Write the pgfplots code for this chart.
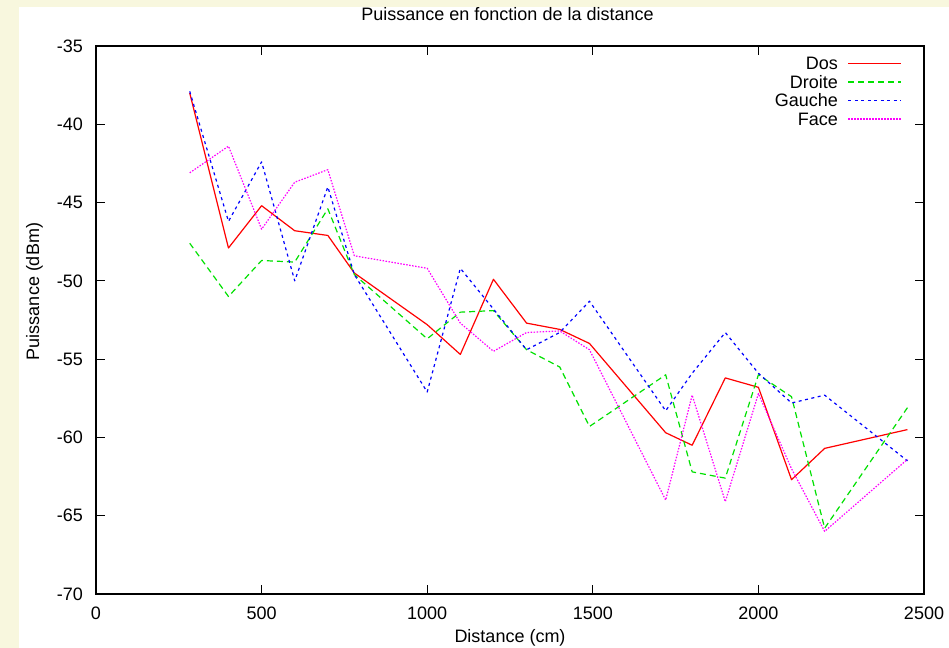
\documentclass[border=0pt]{standalone}
\usepackage{fontspec}
\setmainfont{Liberation Sans}
\usepackage{pgfplots}
\pgfplotsset{compat=1.18}

\definecolor{pagebg}{RGB}{248,247,222}
\definecolor{gpred}{RGB}{255,0,0}
\definecolor{gpgreen}{RGB}{0,225,0}
\definecolor{gpblue}{RGB}{0,0,255}
\definecolor{gpmagenta}{RGB}{255,0,255}

\newcommand{\gpfont}{\fontsize{18bp}{21bp}\selectfont}

\tikzset{
  dosline/.style={draw=gpred, solid, line width=1.2bp},
  droiteline/.style={draw=gpgreen, dash pattern=on 6bp off 4bp, line width=1.2bp},
  gaucheline/.style={draw=gpblue, dash pattern=on 3bp off 3.5bp, line width=1.2bp},
  faceline/.style={draw=gpmagenta, dash pattern=on 1.5bp off 1.5bp, line width=1.2bp},
}

\begin{document}
\begin{tikzpicture}[x=1bp,y=1bp]
  % page background, white sheet
  \fill[pagebg] (0,0) rectangle (949,648);
  \fill[white] (19,0) rectangle (949,641);
  \useasboundingbox (0,0) rectangle (949,648);

  % key sample lines (drawn before any text is set)
  \draw[dosline]    (848,584.5) -- (901,584.5);
  \draw[droiteline] (848,566.0) -- (901,566.0);
  \draw[gaucheline] (848,547.5) -- (901,547.5);
  \draw[faceline]   (848,529.0) -- (901,529.0);

  \begin{axis}[
      at={(96bp,54bp)}, anchor=south west,
      scale only axis,
      width=828bp, height=548bp,
      xmin=0, xmax=2500,
      ymin=-70, ymax=-35,
      xtick={0,500,1000,1500,2000,2500},
      xticklabels={0,500,1000,1500,2000,2500},
      ytick={-70,-65,-60,-55,-50,-45,-40,-35},
      yticklabels={-70,-65,-60,-55,-50,-45,-40,-35},
      font=\gpfont,
      tick label style={font=\gpfont, inner sep=0pt},
      yticklabel style={anchor=east, xshift=-13bp},
      xticklabel style={anchor=north, yshift=-12.5bp},
      tick align=inside,
      major tick length=9bp,
      every tick/.style={black, line width=1.2bp},
      axis line style={line width=1.5bp},
      title={Puissance en fonction de la distance},
      title style={at={(rel axis cs:0.497,1.0365)}, anchor=base, inner sep=0pt},
      xlabel={Distance (cm)},
      xlabel style={at={(rel axis cs:0.5,-0.0876)}, anchor=base, inner sep=0pt},
      ylabel={Puissance (dBm)},
      ylabel style={at={(rel axis cs:-0.0688,0.552)}, anchor=base, rotate=0, inner sep=0pt},
      every axis plot/.append style={line join=round},
    ]

    \addplot[dosline] coordinates {
        (283,-38.0)(400,-47.9)(500,-45.2)(600,-46.8)(700,-47.1)(780,-49.5)
        (1000,-52.8)(1100,-54.7)(1200,-49.9)(1300,-52.7)(1400,-53.1)(1490,-54.0)
        (1720,-59.7)(1800,-60.5)(1900,-56.2)(2000,-56.8)(2100,-62.7)(2200,-60.7)
        (2450,-59.5)
      };

    \addplot[droiteline] coordinates {
        (283,-47.6)(400,-51.0)(500,-48.7)(600,-48.8)(700,-45.4)(780,-49.6)
        (1000,-53.7)(1100,-52.0)(1200,-51.9)(1300,-54.4)(1400,-55.5)(1490,-59.3)
        (1720,-56.0)(1800,-62.2)(1900,-62.6)(2000,-56.0)(2100,-57.4)(2200,-65.8)
        (2450,-58.1)
      };

    \addplot[gaucheline] coordinates {
        (283,-37.9)(400,-46.2)(500,-42.4)(600,-50.0)(700,-44.0)(780,-49.6)
        (1000,-57.1)(1100,-49.2)(1200,-51.8)(1300,-54.4)(1400,-53.3)(1490,-51.3)
        (1720,-58.3)(1800,-55.9)(1900,-53.3)(2000,-55.9)(2100,-57.8)(2200,-57.3)
        (2450,-61.5)
      };

    \addplot[faceline] coordinates {
        (283,-43.1)(400,-41.4)(500,-46.7)(600,-43.7)(700,-42.9)(780,-48.4)
        (1000,-49.2)(1100,-52.7)(1200,-54.5)(1300,-53.3)(1400,-53.2)(1490,-54.4)
        (1720,-64.0)(1800,-57.3)(1900,-64.1)(2000,-57.2)(2100,-62.0)(2200,-66.0)
        (2450,-61.4)
      };
  \end{axis}

  % key names, right aligned before the sample lines
  \node[font=\gpfont, anchor=base east, inner sep=0pt] at (838,578.1) {Dos};
  \node[font=\gpfont, anchor=base east, inner sep=0pt] at (838,559.6) {Droite};
  \node[font=\gpfont, anchor=base east, inner sep=0pt] at (838,541.1) {Gauche};
  \node[font=\gpfont, anchor=base east, inner sep=0pt] at (838,522.6) {Face};
\end{tikzpicture}
\end{document}
